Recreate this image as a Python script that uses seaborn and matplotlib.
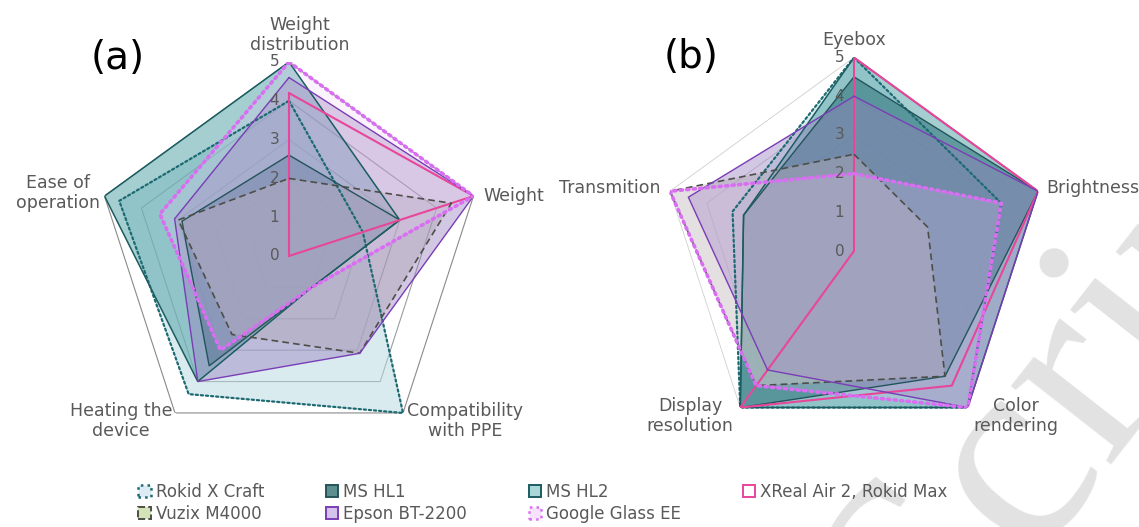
import numpy as np
import pandas as pd
import matplotlib
matplotlib.use("Agg")
import matplotlib.pyplot as plt
from matplotlib.patches import Patch
from matplotlib.transforms import offset_copy
import seaborn as sns

# ---- data -------------------------------------------------------------
ergo_axes = ["Weight\ndistribution", "Weight", "Compatibility\nwith PPE",
             "Heating the\ndevice", "Ease of\noperation"]
optics_axes = ["Eyebox", "Brightness", "Color\nrendering",
               "Display\nresolution", "Transmition"]

devices = ["Rokid X Craft", "MS HL1", "MS HL2", "XReal Air 2, Rokid Max",
           "Vuzix M4000", "Epson BT-2200", "Google Glass EE"]

# (a) ergonomics scores, in the order of ergo_axes
rokid_ergo = [4.0, 2.0, 5.0, 4.4, 4.6]
hl1_ergo = [2.6, 3.0, 1.0, 3.5, 2.9]
hl2_ergo = [5.0, 3.0, 1.0, 4.0, 5.0]
xreal_ergo = [4.2, 5.0, 0.0, 0.0, 0.0]
vuzix_ergo = [2.0, 4.4, 3.1, 2.5, 3.0]
epson_ergo = [4.6, 5.0, 3.1, 4.0, 3.1]
google_ergo = [5.0, 5.0, 1.0, 3.0, 3.5]

# (b) optical scores, in the order of optics_axes
rokid_optics = [5.0, 4.0, 5.0, 5.0, 3.3]
hl1_optics = [4.5, 5.0, 4.0, 5.0, 3.0]
hl2_optics = [5.0, 5.0, 5.0, 5.0, 3.0]
xreal_optics = [5.0, 5.0, 4.3, 5.0, 0.0]
vuzix_optics = [2.5, 2.0, 4.0, 4.3, 5.0]
epson_optics = [4.0, 5.0, 5.0, 3.8, 4.5]
google_optics = [2.0, 4.0, 5.0, 4.3, 5.0]

levels = [0, 1, 2, 3, 4, 5]

# ---- styles -----------------------------------------------------------
styles = {
    "Rokid X Craft": dict(edge="#1d6a72", fill="#b4d9e0", alpha=0.50,
                          ls=(0, (1, 1.3)), lw=1.6, cap="round"),
    "MS HL1": dict(edge="#24545a", fill="#1f4f5a", alpha=0.60,
                   ls="-", lw=1.0, cap="butt"),
    "MS HL2": dict(edge="#1b5c60", fill="#4a9fa2", alpha=0.50,
                   ls="-", lw=1.1, cap="butt"),
    "XReal Air 2, Rokid Max": dict(edge="#e8469b", fill="none", alpha=0.0,
                                   ls="-", lw=1.5, cap="butt"),
    "Vuzix M4000": dict(edge="#4e4e48", fill="#c3c7b2", alpha=0.45,
                        ls=(0, (4, 2.5)), lw=1.2, cap="butt"),
    "Epson BT-2200": dict(edge="#7a3db6", fill="#967dbe", alpha=0.42,
                          ls="-", lw=1.0, cap="butt"),
    "Google Glass EE": dict(edge="#d96ef3", fill="#eccaf5", alpha=0.22,
                            ls=(0, (0.6, 1.2)), lw=2.6, cap="round"),
}

legend_fill = {
    "Rokid X Craft": "#dcecf2", "MS HL1": "#5e8f90", "MS HL2": "#a9d7d7",
    "XReal Air 2, Rokid Max": "#ffffff", "Vuzix M4000": "#d5e4b8",
    "Epson BT-2200": "#d3c3ea", "Google Glass EE": "#f6e3fb",
}
legend_edge_ls = {
    "Rokid X Craft": ":", "MS HL1": "-", "MS HL2": "-",
    "XReal Air 2, Rokid Max": "-", "Vuzix M4000": "--",
    "Epson BT-2200": "-", "Google Glass EE": ":",
}

TEXT = "#595959"

sns.set_theme(style="white")
plt.rcParams["font.family"] = ["DejaVu Sans"]
plt.rcParams["text.color"] = TEXT

W, H = 1139, 527
fig = plt.figure(figsize=(W / 100, H / 100), dpi=100)


def add_radar(cx, cy, r5):
    """Polar axes whose level-5 ring has radius r5 px around (cx, cy)."""
    ax = fig.add_axes([(cx - r5) / W, (H - cy - r5) / H, 2 * r5 / W, 2 * r5 / H],
                      projection="polar")
    ax.set_theta_offset(np.pi / 2)
    ax.set_theta_direction(-1)
    ax.set_facecolor("none")
    ax.patch.set_visible(False)
    ax.grid(False)
    ax.spines["polar"].set_visible(False)
    ax.set_xticks([])
    ax.set_yticks([])
    return ax


def closed(vals):
    v = list(vals)
    return v + v[:1]


def draw_panel(ax, axes_names, series, grid_outer, grid_inner, grid_lw):
    n = len(axes_names)
    theta = np.linspace(0, 2 * np.pi, n, endpoint=False)
    th_c = np.append(theta, 2 * np.pi)

    # pentagon gridlines
    for lv in levels[1:]:
        col = grid_outer if lv == levels[-1] else grid_inner
        ax.plot(th_c, [lv] * (n + 1), color=col, lw=grid_lw, zorder=1)

    # series: translucent fill, then outline
    for i, (name, vals) in enumerate(series):
        st = styles[name]
        r = closed(vals)
        if st["fill"] != "none":
            ax.fill(th_c, r, color=st["fill"], alpha=st["alpha"], lw=0,
                    zorder=2 + i)
        df = pd.DataFrame({"theta": th_c, "score": r})
        sns.lineplot(data=df, x="theta", y="score", ax=ax, sort=False,
                     estimator=None, color=st["edge"], linewidth=st["lw"],
                     linestyle=st["ls"], dash_capstyle=st["cap"],
                     solid_joinstyle="miter", zorder=10 + i)

    ax.set_xlabel("")
    ax.set_ylabel("")
    ax.set_xticks([])
    ax.set_yticks([])
    ax.set_ylim(0, levels[-1])

    # radial value labels along the top axis
    tr = offset_copy(ax.transData, fig=fig, x=-7, y=0, units="points")
    for lv in levels:
        ax.text(0, lv, str(lv), transform=tr, ha="right", va="center",
                fontsize=11, color=TEXT, zorder=30)
    return theta


def label(ax, th, r, text, dx, dy, ha, va, size=12.5):
    tr = offset_copy(ax.transData, fig=fig, x=dx, y=dy, units="points")
    ax.text(th, r, text, transform=tr, ha=ha, va=va, fontsize=size,
            color=TEXT, multialignment="center", linespacing=1.15, zorder=30)


# ---- background watermark --------------------------------------------
fig.text(930 / W, 1 - 672 / H, "Script", fontsize=200, color="#e2e2e2",
         rotation=52, rotation_mode="anchor", ha="left", va="baseline",
         family="Liberation Serif", zorder=-5)

# ---- panel (a) --------------------------------------------------------
ax_a = add_radar(289, 256, 194)
ergo_series = list(zip(devices, [rokid_ergo, hl1_ergo, hl2_ergo, xreal_ergo,
                                 vuzix_ergo, epson_ergo, google_ergo]))
th = draw_panel(ax_a, ergo_axes, ergo_series, "#8a8a8a", "#9c9c9c", 0.8)
label(ax_a, th[0], 5, ergo_axes[0], 8, 6, "center", "bottom")
label(ax_a, th[1], 5, ergo_axes[1], 7, 0, "left", "center")
label(ax_a, th[2], 5, ergo_axes[2], 3, -6, "left", "center")
label(ax_a, th[3], 5, ergo_axes[3], -2, -6, "right", "center")
label(ax_a, th[4], 5, ergo_axes[4], -3, 2, "right", "center")

# ---- panel (b) --------------------------------------------------------
ax_b = add_radar(854, 251, 193.5)
optics_series = list(zip(devices, [rokid_optics, hl1_optics, hl2_optics,
                                   xreal_optics, vuzix_optics, epson_optics,
                                   google_optics]))
th = draw_panel(ax_b, optics_axes, optics_series, "#cfcfcf", "#c4c4c4", 0.6)
label(ax_b, th[0], 5, optics_axes[0], 0, 6, "center", "bottom")
label(ax_b, th[1], 5, optics_axes[1], 6, 2, "left", "center")
label(ax_b, th[2], 5, optics_axes[2], 4, -6, "left", "center")
label(ax_b, th[3], 5, optics_axes[3], -5, -6, "right", "center")
label(ax_b, th[4], 5, optics_axes[4], -7, 2, "right", "center")

# panel tags
fig.text(118 / W, 1 - 58 / H, "(a)", fontsize=28, color="black",
         ha="center", va="center")
fig.text(691 / W, 1 - 57 / H, "(b)", fontsize=28, color="black",
         ha="center", va="center")

# ---- legend -----------------------------------------------------------
order = ["Rokid X Craft", "Vuzix M4000", "MS HL1", "Epson BT-2200",
         "MS HL2", "Google Glass EE", "XReal Air 2, Rokid Max"]
handles = [Patch(facecolor=legend_fill[n], edgecolor=styles[n]["edge"],
                 linestyle=legend_edge_ls[n],
                 linewidth=1.8 if legend_edge_ls[n] == ":" else 1.4,
                 label=n) for n in order]
fig.legend(handles=handles, ncol=4, loc="center",
           bbox_to_anchor=(543 / W, 1 - 503 / H), frameon=False,
           fontsize=12, handlelength=0.75, handleheight=0.75,
           handletextpad=0.3, columnspacing=3.7, labelspacing=0.25,
           labelcolor=TEXT)

fig.savefig("out.png", dpi=100)
